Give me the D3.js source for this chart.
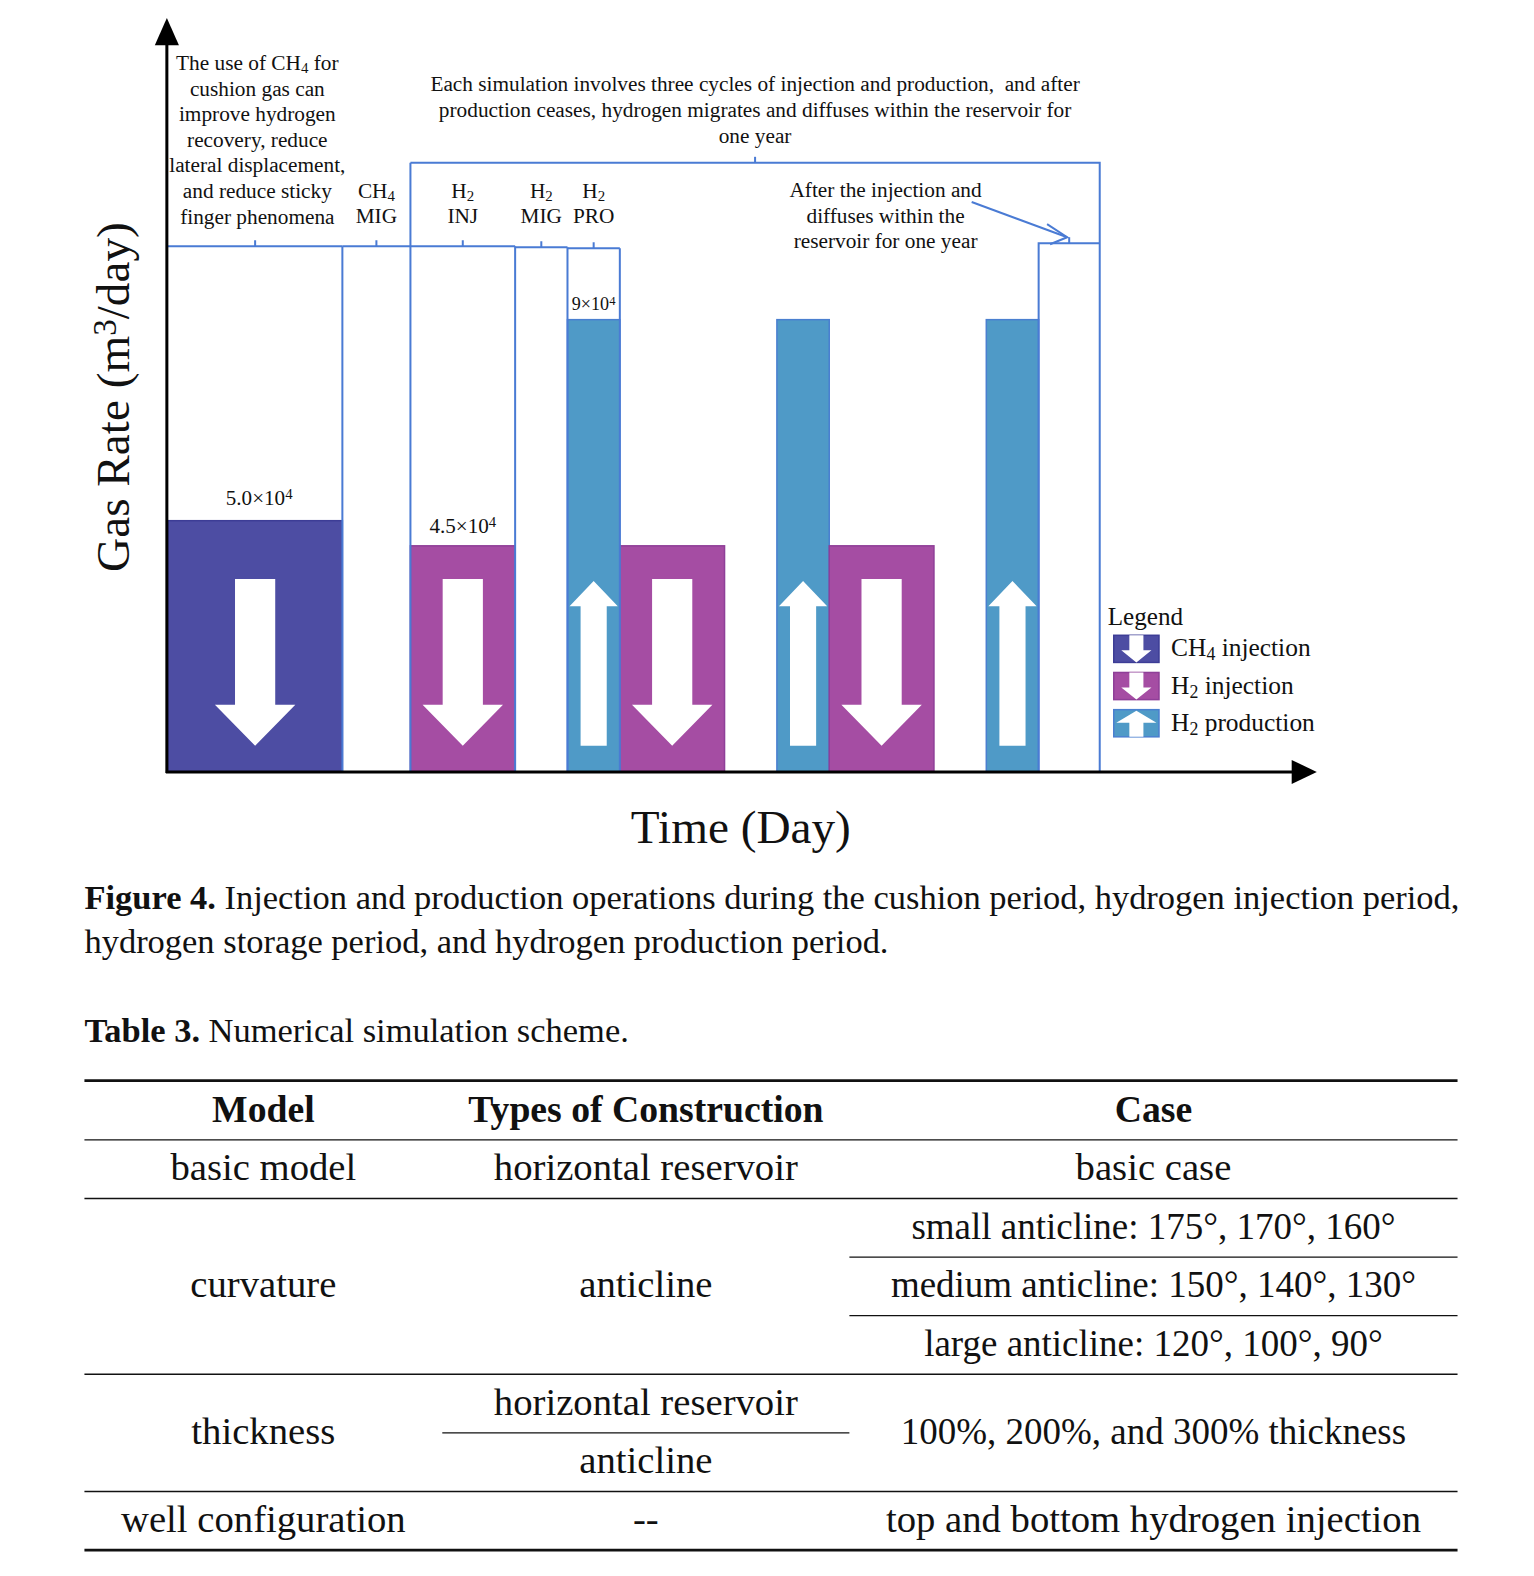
<!DOCTYPE html>
<html><head><meta charset="utf-8">
<script src="https://cdn.jsdelivr.net/npm/d3@7"></script>
<style>html,body{margin:0;padding:0;background:#fff;overflow:hidden} svg{display:block}</style>
</head><body>
<svg id="c" width="1534" height="1576"></svg>
<script>
// ---------------- DATA ----------------
const phaseNames = ["CH4 injection","CH4 migration","H2 injection 1","H2 migration 1","H2 production 1",
  "H2 injection 2","H2 migration 2","H2 production 2","H2 injection 3","H2 migration 3","H2 production 3","H2 diffusion"];
const phaseDays  = [100, 39, 60, 30, 30, 60, 30, 30, 60, 30, 30, 35];
const phaseRates = [50000, 0, 45000, 0, 90000, 45000, 0, 90000, 45000, 0, 90000, 0];
const phaseKinds = ["ch4inj","mig","h2inj","mig","h2pro","h2inj","mig","h2pro","h2inj","mig","h2pro","diff"];
const phaseTags  = [null, ["CH_4","MIG"], ["H_2","INJ"], ["H_2","MIG"], ["H_2","PRO"]];
const rateLabels = [{phase:0, text:"5.0×10^4"}, {phase:2, text:"4.5×10^4"}, {phase:4, text:"9×10^4"}];
const noteLeft  = ["The use of CH_4 for","cushion gas can","improve hydrogen","recovery, reduce","lateral displacement,","and reduce sticky","finger phenomena"];
const noteTop   = ["Each simulation involves three cycles of injection and production,  and after","production ceases, hydrogen migrates and diffuses within the reservoir for","one year"];
const noteAfter = ["After the injection and","diffuses within the","reservoir for one year"];
const legendKinds  = ["ch4inj","h2inj","h2pro"];
const legendLabels = ["CH_4 injection","H_2 injection","H_2 production"];
const yTitle = "Gas Rate (m^3/day)";
const xTitle = "Time (Day)";
const captionFig = ["Figure 4.", " Injection and production operations during the cushion period, hydrogen injection period,", "hydrogen storage period, and hydrogen production period."];
const captionTab = ["Table 3.", " Numerical simulation scheme."];
const tableHeaders = ["Model","Types of Construction","Case"];
const tableModels = ["basic model","curvature","thickness","well configuration"];
const tableTypes  = [["horizontal reservoir"],["anticline"],["horizontal reservoir","anticline"],["--"]];
const tableCases  = [["basic case"],["small anticline: 175°, 170°, 160°","medium anticline: 150°, 140°, 130°","large anticline: 120°, 100°, 90°"],["100%, 200%, and 300% thickness"],["top and bottom hydrogen injection"]];

// ---------------- SETUP ----------------
const svg = d3.select("#c");
const root = svg.append("g").attr("transform","scale(1.0052)");
const serif = "'Liberation Serif','Times New Roman',serif";
const colors = {ch4inj:"#4d4da3", h2inj:"#a54da3", h2pro:"#4f9ac7"};
const strokes = {ch4inj:"#3d3d96", h2inj:"#8f3f98", h2pro:"#4a7fd0"};
const lineBlue = "#4a7bd4";

const phases = [];
let t = 0;
phaseDays.forEach((d,i)=>{ phases.push({name:phaseNames[i], start:t, end:t+d, rate:phaseRates[i], kind:phaseKinds[i]}); t += d; });

const x = d3.scaleLinear().domain([0, 644]).range([167, 1285]);
const y = d3.scaleLinear().domain([0, 100000]).range([768, 268]);
const y0 = y(0);

// rich text helper: _x subscript, ^x superscript
function rich(sel, str, small) {
  const parts = str.split(/([_^][0-9]+)/).filter(s=>s.length);
  parts.forEach(p=>{
    if (p[0]==="_") sel.append("tspan").attr("baseline-shift","-22%").attr("font-size", small||"70%").text(p.slice(1));
    else if (p[0]==="^") sel.append("tspan").attr("baseline-shift","38%").attr("font-size", small||"70%").text(p.slice(1));
    else sel.append("tspan").text(p);
  });
}

const g = root.append("g");

// ---------------- BARS ----------------
const bars = phases.filter(p=>p.rate>0);
g.selectAll("rect.bar").data(bars).join("rect")
  .attr("x", d=>x(d.start)).attr("width", d=>x(d.end)-x(d.start))
  .attr("y", d=>y(d.rate)).attr("height", d=>y0-y(d.rate))
  .attr("fill", d=>colors[d.kind]).attr("stroke", d=>strokes[d.kind]).attr("stroke-width",1.5);

function downArrow(cx, top, hb, tip, sw, hw){
  return `M${cx-sw},${top}H${cx+sw}V${hb}H${cx+hw}L${cx},${tip}L${cx-hw},${hb}H${cx-sw}Z`;
}
function upArrow(cx, tip, hb, bottom, sw, hw){
  return `M${cx},${tip}L${cx+hw},${hb}H${cx+sw}V${bottom}H${cx-sw}V${hb}H${cx-hw}Z`;
}
g.selectAll("path.arr").data(bars).join("path")
  .attr("fill","#fff")
  .attr("d", d=>{
    const cx = (x(d.start)+x(d.end))/2;
    if (d.kind==="h2pro") return upArrow(cx, y0-190, y0-165, y0-26, 13, 24);
    return downArrow(cx, y0-192, y0-67, y0-26, 20, 40);
  });

// ---------------- BLUE BRACKETS ----------------
const blue = g.append("g").attr("stroke", lineBlue).attr("stroke-width",2).attr("fill","none");
const lvl1 = 245, lvlTop = 162, lvlLast = 242;
phases.slice(0,5).forEach((p,i)=>{
  const a = x(p.start), b = x(p.end), yy = lvl1 + (i>=3 ? i-2 : 0);
  blue.append("path").attr("d", `M${a},${yy}H${b}`);
  blue.append("path").attr("d", `M${(a+b)/2},${yy}v-6`);
  if (i!==1) blue.append("path").attr("d", `M${b},${yy}V${y0}`);
});
blue.append("path").attr("d", `M${x(phases[2].start)},${lvlTop}V${y0}`);
const ta = x(phases[2].start), tb = x(phases[11].end);
blue.append("path").attr("d", `M${ta},${lvlTop}H${tb}V${y0}`);
blue.append("path").attr("d", `M${(ta+tb)/2},${lvlTop}v-6`);
const la = x(phases[11].start), lb = x(phases[11].end);
blue.append("path").attr("d", `M${la},${y0}V${lvlLast}H${lb}`);
blue.append("path").attr("d", `M${(la+lb)/2},${lvlLast}v-6`);
const px = (la+lb)/2 - 2, py = lvlLast - 6;
blue.append("path").attr("d", `M${px-95},${py-35}L${px},${py}`);
blue.append("path").attr("d", `M${px-20},${py-13}L${px},${py}L${px-17},${py+7}`);

// ---------------- AXES ----------------
const ax = g.append("g");
ax.append("path").attr("d", `M166,${y0+1}V40`).attr("stroke","#000").attr("stroke-width",3);
ax.append("path").attr("d", `M154,45L166,18L178,45Z`).attr("fill","#000");
ax.append("path").attr("d", `M165,${y0}H1290`).attr("stroke","#000").attr("stroke-width",3);
ax.append("path").attr("d", `M1285,${y0-12}L1310,${y0}L1285,${y0+12}Z`).attr("fill","#000");

// ---------------- CHART TEXTS ----------------
const tx = g.append("g").attr("font-family", serif).attr("fill","#111").attr("text-anchor","middle");
noteLeft.forEach((s,i)=>rich(tx.append("text").attr("x",256).attr("y",70+i*25.4).attr("font-size",21.2), s));
noteTop.forEach((s,i)=>rich(tx.append("text").attr("x",(ta+tb)/2).attr("y",91+i*25.4).attr("font-size",21.2).style("white-space","pre"), s));
noteAfter.forEach((s,i)=>rich(tx.append("text").attr("x",881).attr("y",196+i*25.6).attr("font-size",21.2), s));
phaseTags.forEach((tag,i)=>{
  if (!tag) return;
  const p = phases[i]; const cx = (x(p.start)+x(p.end))/2;
  rich(tx.append("text").attr("x",cx).attr("y",197).attr("font-size",21.2), tag[0]);
  tx.append("text").attr("x",cx).attr("y",222).attr("font-size",21.2).text(tag[1]);
});
const labelDx = [4, 0, 0], labelDy = [16, 13, 10];
rateLabels.forEach((r,i)=>{
  const p = phases[r.phase]; const cx = (x(p.start)+x(p.end))/2;
  rich(tx.append("text").attr("x",cx+labelDx[i]).attr("y", y(p.rate) - labelDy[i]).attr("font-size", i===2?18:21), r.text);
});
rich(tx.append("text").attr("transform","translate(128,395) rotate(-90)").attr("font-size",47), yTitle);
tx.append("text").attr("x",737).attr("y",839).attr("font-size",47).text(xTitle);

// ---------------- LEGEND ----------------
const lg = g.append("g").attr("font-family", serif).attr("fill","#111");
lg.append("text").attr("x",1102).attr("y",622).attr("font-size",25).text("Legend");
legendKinds.forEach((k,i)=>{
  const yy = 632 + i*37, xx = 1108, w = 45, h = 27, cx = xx + w/2;
  lg.append("rect").attr("x",xx).attr("y",yy).attr("width",w).attr("height",h)
    .attr("fill",colors[k]).attr("stroke",strokes[k]).attr("stroke-width",1.5);
  lg.append("path").attr("fill","#fff").attr("d", k==="h2pro"
    ? upArrow(cx, yy+1, yy+13, yy+h, 7, 20)
    : downArrow(cx, yy, yy+15, yy+h, 7, 15));
  rich(lg.append("text").attr("x",1165).attr("y",yy+21).attr("font-size",25.3), legendLabels[i]);
});

// ---------------- CAPTIONS ----------------
const cap = root.append("g").attr("font-family", serif).attr("fill","#111").attr("font-size",34.3);
const c1 = cap.append("text").attr("x",84).attr("y",904);
c1.append("tspan").attr("font-weight","bold").text(captionFig[0]);
c1.append("tspan").text(captionFig[1]);
cap.append("text").attr("x",84).attr("y",948).text(captionFig[2]);
const c2 = cap.append("text").attr("x",84).attr("y",1037);
c2.append("tspan").attr("font-weight","bold").text(captionTab[0]);
c2.append("tspan").text(captionTab[1]);

// ---------------- TABLE ----------------
const tb_ = root.append("g").attr("font-family", serif).attr("fill","#111").attr("font-size",38.5).attr("text-anchor","middle");
const colEdges = [84, 440, 845, 1450];
const colC = [0,1,2].map(i=>(colEdges[i]+colEdges[i+1])/2);
const topY = 1075, headH = 59, subH = 58.3;
const rule = (x1,x2,yy,w)=>tb_.append("path").attr("d",`M${x1},${yy}H${x2}`).attr("stroke","#111").attr("stroke-width",w);
rule(84,1450,topY,2.6);
tableHeaders.forEach((h,i)=>tb_.append("text").attr("x",colC[i]).attr("y",topY+headH/2+12).attr("font-weight","bold").attr("font-size",37.5).text(h));
let yy = topY + headH;
rule(84,1450,yy,1.4);
const caseSize = s => /[0-9]/.test(s) ? 36.8 : 38.5;
tableModels.forEach((m,gi)=>{
  const n = Math.max(tableTypes[gi].length, tableCases[gi].length);
  const gh = n*subH;
  tb_.append("text").attr("x",colC[0]).attr("y",yy+gh/2+11).text(m);
  const tt = tableTypes[gi], cc = tableCases[gi];
  tt.forEach((s,j)=>{
    const h = gh/tt.length;
    tb_.append("text").attr("x",colC[1]).attr("y",yy+h*j+h/2+11).text(s);
    if (j>0) rule(colEdges[1],colEdges[2],yy+h*j,1.2);
  });
  cc.forEach((s,j)=>{
    const h = gh/cc.length;
    tb_.append("text").attr("x",colC[2]).attr("y",yy+h*j+h/2+11).attr("font-size",caseSize(s)).text(s);
    if (j>0) rule(colEdges[2],colEdges[3],yy+h*j,1.2);
  });
  yy += gh;
  rule(84,1450,yy, gi===tableModels.length-1 ? 2.6 : 1.4);
});
</script>
</body></html>
